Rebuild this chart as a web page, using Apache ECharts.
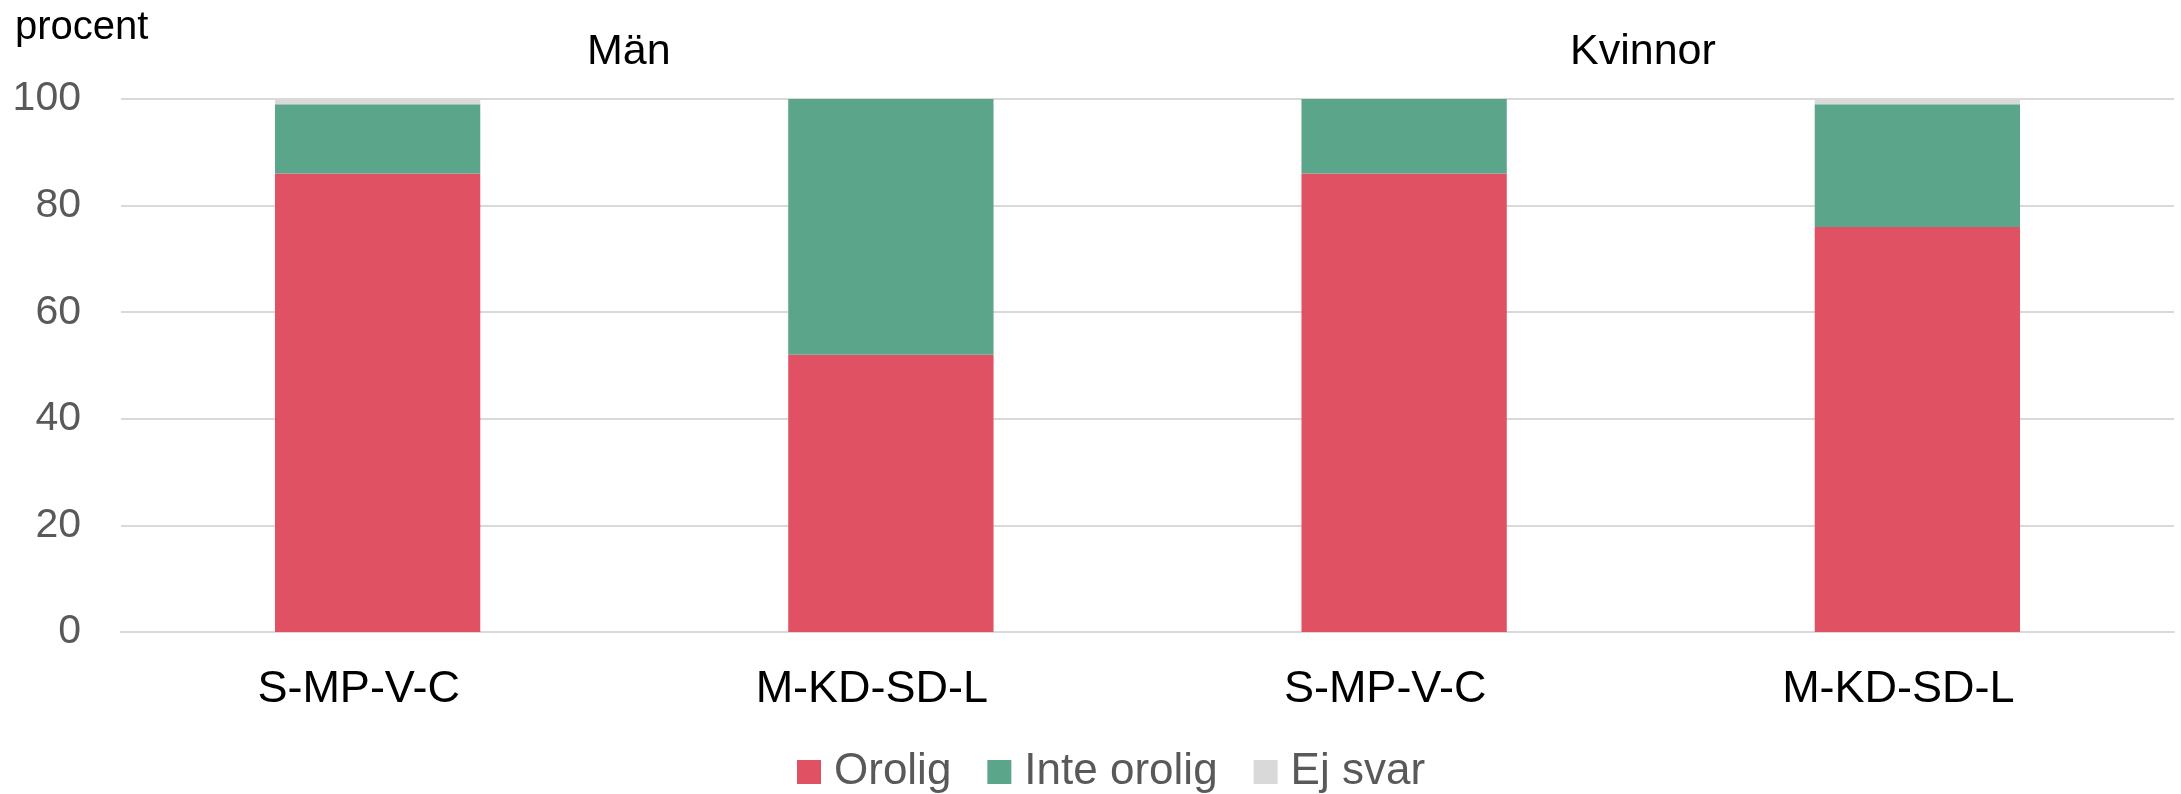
<!DOCTYPE html>
<html>
<head>
<meta charset="UTF-8">
<title>Orolig</title>
<script src="https://cdn.jsdelivr.net/npm/echarts@6/dist/echarts.min.js"></script>
<style>
  html, body { margin: 0; padding: 0; background: #fff; }
  #chart { width: 2181px; height: 794px; }
</style>
</head>
<body>
<div id="chart"></div>
<script>
// data
var categories = ['S-MP-V-C', 'M-KD-SD-L', 'S-MP-V-C', 'M-KD-SD-L'];
var groups = ['Män', 'Kvinnor'];
var orolig = [86, 52, 86, 76];
var inteOrolig = [13, 48, 14, 23];
var ejSvar = [1, 0, 0, 1];
var seriesNames = ['Orolig', 'Inte orolig', 'Ej svar'];
var yTicks = [0, 20, 40, 60, 80, 100];

var FONT = '"Liberation Sans", Arial, sans-serif';
var colors = ['#E05263', '#5BA68A', '#D9D9D9'];

var chart = echarts.init(document.getElementById('chart'), null, { renderer: 'canvas' });

var option = {
  animation: false,
  color: colors,
  textStyle: { fontFamily: FONT },
  title: [
    { text: 'procent', left: 15, top: 8, padding: 0,
      textStyle: { fontFamily: FONT, fontSize: 40, fontWeight: 'normal', color: '#000' } },
    { text: groups[0], left: 587, top: 31, padding: 0,
      textStyle: { fontFamily: FONT, fontSize: 43, fontWeight: 'normal', color: '#000' } },
    { text: groups[1], left: 1570, top: 31, padding: 0,
      textStyle: { fontFamily: FONT, fontSize: 43, fontWeight: 'normal', color: '#000' } }
  ],
  legend: {
    left: 792,
    top: 745,
    itemWidth: 24,
    itemHeight: 24,
    itemGap: 36,
    icon: 'rect',
    data: seriesNames,
    textStyle: { fontFamily: FONT, fontSize: 44, color: '#595959', padding: [0, 0, 0, 8] }
  },
  grid: { left: 121, right: 7, top: 99, bottom: 162, containLabel: false },
  xAxis: {
    type: 'category',
    data: categories,
    axisLine: { show: true, lineStyle: { color: '#D9D9D9', width: 2 } },
    axisTick: { show: false },
    axisLabel: {
      fontFamily: FONT, fontSize: 45, color: '#000', margin: 35,
      padding: [0, 38, 0, 0]
    }
  },
  yAxis: {
    type: 'value',
    min: yTicks[0],
    max: yTicks[yTicks.length - 1],
    interval: 20,
    axisLine: { show: false },
    axisTick: { show: false },
    splitLine: { lineStyle: { color: '#D9D9D9', width: 2 } },
    axisLabel: { fontFamily: FONT, fontSize: 41, color: '#595959', margin: 40 }
  },
  series: [
    { name: seriesNames[0], type: 'bar', stack: 'a', data: orolig, barWidth: '40%' },
    { name: seriesNames[1], type: 'bar', stack: 'a', data: inteOrolig, barWidth: '40%' },
    { name: seriesNames[2], type: 'bar', stack: 'a', data: ejSvar, barWidth: '40%' }
  ]
};

chart.setOption(option);
</script>
</body>
</html>
